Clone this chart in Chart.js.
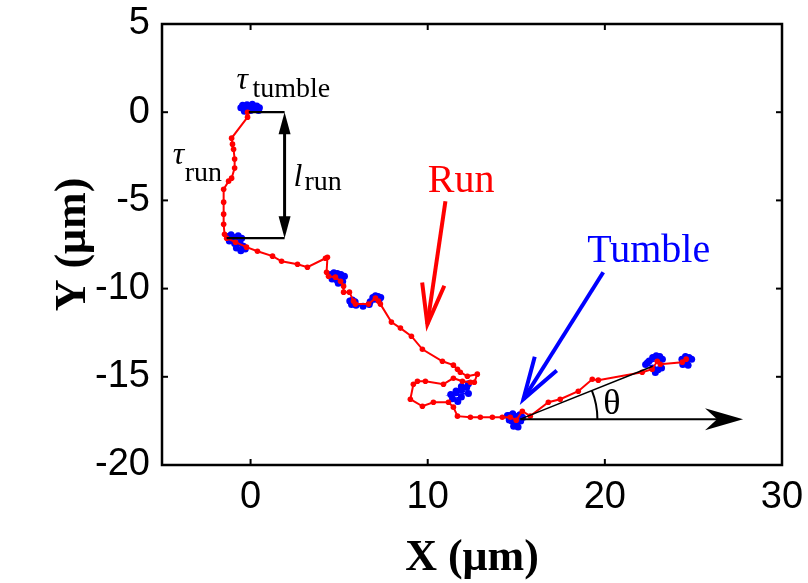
<!DOCTYPE html>
<html>
<head>
<meta charset="utf-8">
<script src="https://cdn.jsdelivr.net/npm/chart.js@4.4.1/dist/chart.umd.min.js"></script>
<style>
  html, body { margin: 0; padding: 0; background: #fff; }
</style>
</head>
<body>
<canvas id="track" width="808" height="583"></canvas>
<script>
// ---- data (µm) ----
const xTicks = [0, 10, 20, 30];
const yTicks = [5, 0, -5, -10, -15, -20];

// run segments (red trajectory)
const runX = [-0.17, -0.17, -1.07, -1.02, -0.96, -0.90, -0.90, -1.07, -1.24, -1.52, -1.52, -1.52, -1.52, -1.47, -1.35,
  -0.85, -0.23, 0.39, 1.24, 1.75, 2.65, 3.21, 4.23, 4.34, 4.29, 4.40, 4.79, 5.08, 5.25, 5.25, 5.58, 5.81, 5.92,
  6.66, 7.05, 7.22, 7.33, 7.95, 8.46, 9.08, 9.70, 10.83, 11.45, 11.68, 11.84, 12.24, 12.80, 12.63, 12.41, 11.96,
  11.45, 10.89, 9.87, 9.42, 9.19, 9.02, 9.70, 10.32, 11.17, 11.45, 11.68, 12.41, 12.97, 13.65, 14.21, 14.66,
  15.00, 15.34, 15.79, 16.81, 17.48, 18.50, 19.29, 19.63, 22.11, 22.67, 22.96, 23.13, 24.37, 24.59];
const runY = [0, -0.28, -1.47, -1.81, -2.10, -2.66, -3.17, -3.74, -3.91, -4.37, -5.10, -5.78, -6.35, -6.92, -7.14,
  -7.37, -7.65, -7.88, -8.16, -8.45, -8.62, -8.79, -8.28, -8.22, -9.07, -9.30, -9.35, -9.58, -9.86, -10.20, -10.20, -10.71, -10.88,
  -10.88, -10.54, -10.71, -10.88, -11.90, -12.24, -12.70, -13.44, -14.12, -14.34, -14.57, -14.74, -14.97, -14.85, -15.31, -15.31, -15.25,
  -15.08, -15.42, -15.25, -15.25, -15.42, -16.27, -16.67, -16.44, -16.44, -16.72, -17.23, -17.29, -17.29, -17.29, -17.29, -17.29,
  -17.46, -16.95, -17.23, -16.44, -16.27, -15.82, -15.14, -15.19, -14.74, -14.57, -14.12, -14.29, -14.17, -14.00];

// tumble clusters (blue), null separates clusters
const tumbleX = [-0.55, -0.45, -0.3, -0.2, -0.05, 0.1, 0.2, 0.35, 0.5, 0.45, 0.0, -0.35, null,
  -1.3, -1.1, -0.9, -0.7, -0.5, -1.2, -0.9, -0.6, -0.4, -0.8, -0.55, -0.3, null,
  4.5, 4.7, 4.9, 5.1, 5.3, 4.6, 4.85, 5.1, 5.2, 4.95, null,
  5.6, 5.75, 5.9, 5.7, 5.95, 6.35, 6.7, 6.75, 6.9, 7.05, 7.2, 7.35, 7.0, 7.25, null,
  12.1, 12.3, 11.9, 12.2, 11.6, 11.9, 12.3, 11.3, 11.6, 11.9, 11.4, 11.7, null,
  14.4, 14.6, 14.8, 15.0, 15.2, 15.35, 14.5, 14.75, 15.0, 15.25, 14.6, 14.85, 15.1, null,
  22.1, 22.3, 22.5, 22.7, 22.9, 23.1, 23.25, 22.4, 22.7, 23.0, 23.2, 22.85, null,
  24.2, 24.35, 24.55, 24.75, 24.9, 24.6, 24.4, 24.7];
const tumbleY = [0.25, 0.4, 0.15, 0.42, 0.3, 0.45, 0.2, 0.35, 0.25, 0.1, 0.1, 0.05, null,
  -7.05, -6.95, -7.1, -7.0, -7.15, -7.3, -7.45, -7.4, -7.6, -7.7, -7.85, -7.75, null,
  -9.2, -9.1, -9.15, -9.2, -9.3, -9.45, -9.5, -9.45, -9.6, -9.7, null,
  -10.7, -10.65, -10.75, -10.9, -10.95, -11.0, -10.9, -10.75, -10.5, -10.4, -10.45, -10.5, -10.6, -10.65, -10.75, null,
  -15.4, -15.55, -15.6, -15.8, -15.75, -15.95, -16.0, -15.9, -16.15, -16.25, -16.4, -16.6, null,
  -17.2, -17.1, -17.25, -17.15, -17.3, -17.2, -17.5, -17.55, -17.5, -17.45, -17.8, -17.85, -17.7, null,
  -14.3, -14.1, -13.9, -13.8, -13.85, -14.0, -14.2, -14.5, -14.6, -14.5, -14.75, -14.8, null,
  -14.0, -13.85, -13.9, -14.0, -14.15, -14.3, -14.35, -14.4];

// annotation geometry, in data units
const lRunX = 1.92, lRunTop = 0, lRunBottom = -7.14;
const tumbleLineStart = -0.1, runLineStart = -1.35;
const thetaOrigin = [15.23, -17.40], thetaTipX = 27.8, thetaRayEnd = [22.7, -14.4], thetaArcR = 4.35;
const runArrow = [[11.0, -5.05], [9.98, -12.02]];
const tumbleArrow = [[19.91, -9.07], [15.40, -16.27]];

const labels = [
  { text: "Run", x: 10.0, y: -4.54, color: "#ff0000", font: "40px 'Liberation Serif'" },
  { text: "Tumble", x: 19.0, y: -8.50, color: "#0000ff", font: "40px 'Liberation Serif'" },
  { text: "θ", x: 19.91, y: -17.12, color: "#000", font: "36px 'Liberation Serif'" },
];
const subLabels = [
  { main: "τ", sub: "tumble", x: -0.8, y: 1.3, subDx: 16, subDy: 8 },
  { main: "τ", sub: "run", x: -4.4, y: -2.95, subDx: 12, subDy: 17 },
  { main: "l", sub: "run", x: 2.42, y: -4.2, subDx: 11, subDy: 4 },
];

const SERIF = "'Liberation Serif', 'Times New Roman', serif";
const SANS = "'Liberation Sans', Arial, sans-serif";

function line(ctx, x1, y1, x2, y2) { ctx.beginPath(); ctx.moveTo(x1, y1); ctx.lineTo(x2, y2); ctx.stroke(); }

function openHead(ctx, x1, y1, x2, y2, len, ang) {
  const a = Math.atan2(y2 - y1, x2 - x1);
  ctx.beginPath();
  ctx.moveTo(x2 - len * Math.cos(a - ang), y2 - len * Math.sin(a - ang));
  ctx.lineTo(x2, y2);
  ctx.lineTo(x2 - len * Math.cos(a + ang), y2 - len * Math.sin(a + ang));
  ctx.stroke();
}

function filledHead(ctx, x1, y1, x2, y2, len, half, notch) {
  const a = Math.atan2(y2 - y1, x2 - x1), c = Math.cos(a), s = Math.sin(a);
  const bx = x2 - len * c, by = y2 - len * s;
  ctx.beginPath();
  ctx.moveTo(x2, y2);
  ctx.lineTo(bx - half * s, by + half * c);
  ctx.lineTo(x2 - (len - notch) * c, y2 - (len - notch) * s);
  ctx.lineTo(bx + half * s, by - half * c);
  ctx.closePath();
  ctx.fill();
}

const annotate = {
  id: "annotate",
  afterDatasetsDraw(chart) {
    const { ctx, scales: { x, y } } = chart;
    const px = v => x.getPixelForValue(v), py = v => y.getPixelForValue(v);
    ctx.save();
    ctx.lineCap = "butt";

    // l_run bracket
    ctx.strokeStyle = "#000"; ctx.fillStyle = "#000";
    ctx.lineWidth = 2.2;
    line(ctx, px(tumbleLineStart), py(lRunTop), px(lRunX), py(lRunTop));
    line(ctx, px(runLineStart), py(lRunBottom), px(lRunX), py(lRunBottom));
    ctx.lineWidth = 3;
    line(ctx, px(lRunX), py(lRunTop) + 16, px(lRunX), py(lRunBottom) - 16);
    filledHead(ctx, px(lRunX), py(lRunBottom) - 10, px(lRunX), py(lRunTop), 22, 6, 0);
    filledHead(ctx, px(lRunX), py(lRunTop) + 10, px(lRunX), py(lRunBottom), 22, 6, 0);

    // theta construction
    const ox = px(thetaOrigin[0]), oy = py(thetaOrigin[1]);
    ctx.lineWidth = 2;
    line(ctx, ox, oy, px(thetaTipX) - 20, oy);
    filledHead(ctx, ox, oy, px(thetaTipX), oy, 38, 11, 12);
    ctx.lineWidth = 1.5;
    line(ctx, ox, oy, px(thetaRayEnd[0]), py(thetaRayEnd[1]));
    const rayAng = Math.atan2(py(thetaRayEnd[1]) - oy, px(thetaRayEnd[0]) - ox);
    const r = px(thetaOrigin[0] + thetaArcR) - ox;
    ctx.lineWidth = 2;
    ctx.beginPath(); ctx.arc(ox, oy, r, rayAng, 0); ctx.stroke();

    // Run / Tumble pointers
    ctx.lineWidth = 4;
    ctx.strokeStyle = "#ff0000";
    line(ctx, px(runArrow[0][0]), py(runArrow[0][1]), px(runArrow[1][0]), py(runArrow[1][1]));
    openHead(ctx, px(runArrow[0][0]), py(runArrow[0][1]), px(runArrow[1][0]), py(runArrow[1][1]), 42, 0.27);
    ctx.strokeStyle = "#0000ff";
    line(ctx, px(tumbleArrow[0][0]), py(tumbleArrow[0][1]), px(tumbleArrow[1][0]), py(tumbleArrow[1][1]));
    openHead(ctx, px(tumbleArrow[0][0]), py(tumbleArrow[0][1]), px(tumbleArrow[1][0]), py(tumbleArrow[1][1]), 44, 0.3);

    // texts
    ctx.textBaseline = "alphabetic"; ctx.textAlign = "left";
    labels.forEach(l => { ctx.fillStyle = l.color; ctx.font = l.font; ctx.fillText(l.text, px(l.x), py(l.y)); });
    ctx.fillStyle = "#000";
    subLabels.forEach(l => {
      ctx.font = "italic 32px " + SERIF;
      ctx.fillText(l.main, px(l.x), py(l.y));
      ctx.font = "28px " + SERIF;
      ctx.fillText(l.sub, px(l.x) + l.subDx, py(l.y) + l.subDy);
    });
    ctx.restore();
  },
  afterDraw(chart) {
    const { ctx, chartArea: a, scales: { x, y } } = chart;
    ctx.save();
    ctx.strokeStyle = "#000";
    ctx.lineWidth = 2.5;
    ctx.strokeRect(a.left, a.top, a.right - a.left, a.bottom - a.top);
    ctx.lineWidth = 2;
    const t = 6;
    xTicks.forEach(v => {
      const p = x.getPixelForValue(v);
      line(ctx, p, a.bottom, p, a.bottom - t);
      line(ctx, p, a.top, p, a.top + t);
    });
    yTicks.forEach(v => {
      const p = y.getPixelForValue(v);
      line(ctx, a.left, p, a.left + t, p);
      line(ctx, a.right, p, a.right - t, p);
    });
    ctx.restore();
  }
};

new Chart(document.getElementById("track"), {
  type: "scatter",
  data: {
    datasets: [
      {
        label: "Run",
        data: runX.map((v, i) => ({ x: v, y: runY[i] })),
        showLine: true, borderColor: "#ff0000", backgroundColor: "#ff0000",
        borderWidth: 2, pointRadius: 2.8, pointBorderWidth: 0, tension: 0,
      },
      {
        label: "Tumble",
        data: tumbleX.map((v, i) => ({ x: v, y: tumbleY[i] })),
        showLine: true, spanGaps: false, borderColor: "#0000ff", backgroundColor: "#0000ff",
        borderWidth: 1.5, pointRadius: 3.5, pointBorderWidth: 0, tension: 0,
      },
    ],
  },
  options: {
    responsive: false,
    animation: false,
    layout: { padding: { top: 24, right: 26, left: 0, bottom: 0 } },
    plugins: { legend: { display: false }, tooltip: { enabled: false } },
    scales: {
      x: {
        type: "linear", min: -5, max: 30,
        afterBuildTicks: s => { s.ticks = xTicks.map(v => ({ value: v })); },
        afterFit: s => { s.height = 118; s.paddingLeft = 0; s.paddingRight = 0; },
        grid: { display: false, drawTicks: false },
        border: { display: false },
        ticks: { color: "#000", padding: 10, font: { family: SANS, size: 38 } },
        title: { display: true, text: "X (μm)", color: "#000", padding: { top: 0, bottom: 2 },
                 font: { family: SERIF, size: 44, weight: "bold", lineHeight: 1 } },
      },
      y: {
        type: "linear", min: -20, max: 5,
        afterBuildTicks: s => { s.ticks = yTicks.map(v => ({ value: v })); },
        afterFit: s => { s.width = 162; s.paddingTop = 0; s.paddingBottom = 0; },
        grid: { display: false, drawTicks: false },
        border: { display: false },
        ticks: { color: "#000", padding: 12, font: { family: SANS, size: 38 } },
        title: { display: true, text: "Y (μm)", color: "#000", padding: { top: 52, bottom: 0 },
                 font: { family: SERIF, size: 44, weight: "bold", lineHeight: 1 } },
      },
    },
  },
  plugins: [annotate],
});
</script>
</body>
</html>
